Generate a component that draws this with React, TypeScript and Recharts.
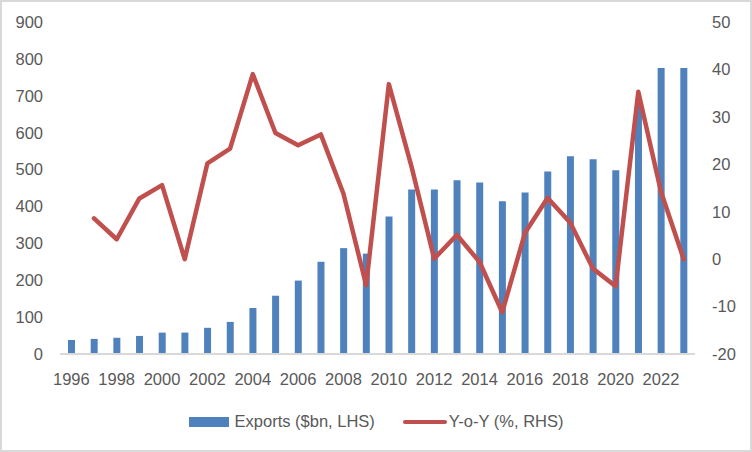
import React from 'react';
import { ComposedChart, Bar, Line, XAxis, YAxis } from 'recharts';

const years = [
  '1996', '1997', '1998', '1999', '2000', '2001', '2002', '2003', '2004', '2005',
  '2006', '2007', '2008', '2009', '2010', '2011', '2012', '2013', '2014', '2015',
  '2016', '2017', '2018', '2019', '2020', '2021', '2022', '2023',
];

const exportsBn = [
  38, 41, 44, 49, 58, 58, 71, 87, 125, 158,
  199, 250, 287, 272, 373, 446, 446, 471, 465, 414,
  438, 495, 536, 528, 498, 685, 775, 775,
];

const yoyPct: (number | null)[] = [
  null, 8.6, 4.2, 12.8, 15.6, 0, 20.2, 23.3, 39.0, 26.6,
  24.0, 26.3, 13.8, -5.5, 36.9, 19.5, 0.1, 5.1, -0.6, -11.2,
  5.5, 12.9, 7.7, -2.0, -5.7, 35.3, 14.2, 0,
];

const leftTicks = [0, 100, 200, 300, 400, 500, 600, 700, 800, 900];
const rightTicks = [-20, -10, 0, 10, 20, 30, 40, 50];

const BLUE = '#4F81BD';
const RED = '#C0504D';
const TEXT = '#595959';
const FONT = '"Liberation Sans", Arial, sans-serif';

const data = years.map((year, i) => ({
  year,
  exports: exportsBn[i],
  yoy: yoyPct[i],
}));

const tickStyle = { fill: TEXT, fontSize: 16.5, fontFamily: FONT };

// legend drawn outside the chart so it doesn't eat plot height
const ChartLegend = () => (
  <div
    style={{
      position: 'absolute',
      left: 0,
      top: 412,
      width: 752,
      display: 'flex',
      justifyContent: 'center',
      alignItems: 'center',
      gap: 28,
      fontFamily: FONT,
      fontSize: 16.5,
      color: TEXT,
    }}
  >
    <div style={{ display: 'flex', alignItems: 'center', gap: 6 }}>
      <div style={{ width: 40, height: 10, backgroundColor: BLUE }} />
      <span>Exports ($bn, LHS)</span>
    </div>
    <div style={{ display: 'flex', alignItems: 'center', gap: 2 }}>
      <div style={{ width: 44, height: 4, borderRadius: 2, backgroundColor: RED }} />
      <span>Y-o-Y (%, RHS)</span>
    </div>
  </div>
);

const App: React.FC = () => {
  return (
    <div
      style={{
        position: 'fixed',
        left: 0,
        top: 0,
        width: 752,
        height: 452,
        boxSizing: 'border-box',
        border: '2px solid #D9D9D9',
        background: '#fff',
      }}
    >
      <div style={{ position: 'absolute', left: -2, top: -2, width: 752, height: 452 }}>
        <ComposedChart
          width={752}
          height={452}
          data={data}
          margin={{ top: 22, right: 0, bottom: 0, left: 0 }}
        >
          <XAxis
            dataKey="year"
            interval={1}
            tickLine={false}
            tickSize={0}
            tickMargin={19}
            height={98}
            axisLine={{ stroke: '#D9D9D9', strokeWidth: 2 }}
            tick={tickStyle}
          />
          <YAxis
            yAxisId="left"
            orientation="left"
            domain={[0, 900]}
            ticks={leftTicks}
            width={60}
            tickLine={false}
            axisLine={false}
            tickSize={0}
            tickMargin={17}
            tick={tickStyle}
          />
          <YAxis
            yAxisId="right"
            orientation="right"
            domain={[-20, 50]}
            ticks={rightTicks}
            width={57}
            tickLine={false}
            axisLine={false}
            tickSize={0}
            tickMargin={17}
            tick={{ ...tickStyle, textAnchor: 'start' }}
          />
          <Bar
            yAxisId="left"
            dataKey="exports"
            fill={BLUE}
            barSize={7}
            isAnimationActive={false}
          />
          <Line
            yAxisId="right"
            dataKey="yoy"
            stroke={RED}
            strokeWidth={4.5}
            dot={false}
            activeDot={false}
            strokeLinecap="round"
            strokeLinejoin="round"
            isAnimationActive={false}
          />
        </ComposedChart>
        <ChartLegend />
      </div>
    </div>
  );
};

export default App;
